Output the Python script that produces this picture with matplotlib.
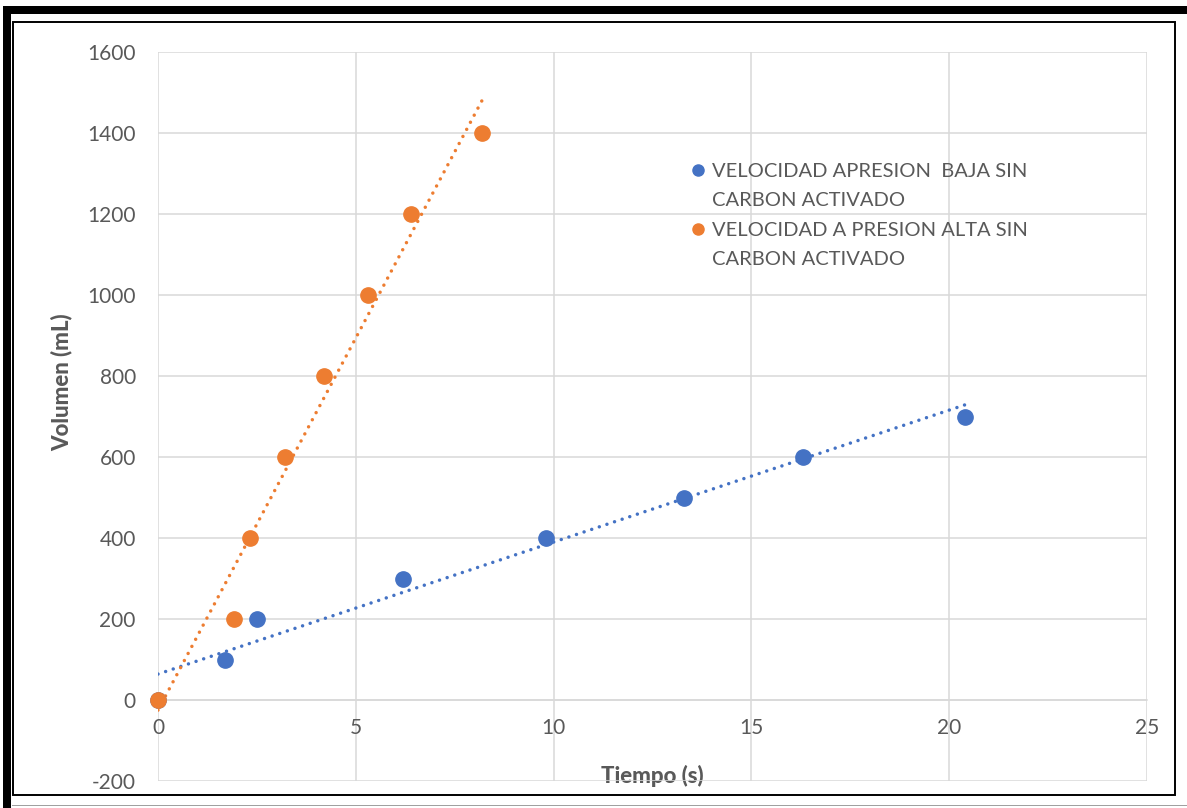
import matplotlib
matplotlib.use("Agg")
import matplotlib.pyplot as plt
from matplotlib.patches import Rectangle
from matplotlib.lines import Line2D
from matplotlib.legend_handler import HandlerLine2D
import numpy as np

# tiempo (s) y volumen (mL) para cada ensayo
t_baja = [0, 1.7, 2.5, 6.2, 9.8, 13.3, 16.3, 20.4]
v_baja = [0, 100, 200, 300, 400, 500, 600, 700]
t_alta = [0, 1.92, 2.33, 3.21, 4.2, 5.31, 6.4, 8.19]
v_alta = [0, 200, 400, 600, 800, 1000, 1200, 1400]

label_baja = "VELOCIDAD APRESION  BAJA SIN\nCARBON ACTIVADO"
label_alta = "VELOCIDAD A PRESION ALTA SIN\nCARBON ACTIVADO"

x_ticks = [0, 5, 10, 15, 20, 25]
y_ticks = [-200, 0, 200, 400, 600, 800, 1000, 1200, 1400, 1600]

BLUE = "#4472C4"
ORANGE = "#ED7D31"
GREY_TXT = "#595959"
GRID = "#D9D9D9"

plt.rcParams["font.family"] = ["Lato", "DejaVu Sans"]
plt.rcParams["axes.unicode_minus"] = False

W, H = 1187, 808
fig = plt.figure(figsize=(W / 100, H / 100), dpi=100)

def px(x0, y0, w, h, **kw):
    # rectangle given in pixels from the top-left corner
    fig.add_artist(Rectangle((x0 / W, 1 - (y0 + h) / H), w / W, h / H,
                             transform=fig.transFigure, **kw))

# outer frame
px(3, 6, W - 3, 8, color="black", lw=0)
px(3, 6, 8, H - 6, color="black", lw=0)
px(12.5, 22, 1162, 773, fill=False, ec="black", lw=1.4)
px(12, 805, W - 12, 1.2, color="#A0A0A0", lw=0)

ax = fig.add_axes([158 / W, 1 - 781 / H, (1147 - 158) / W, (781 - 52) / H])
ax.set_xlim(0, 25)
ax.set_ylim(-200, 1600)
ax.set_xticks(x_ticks)
ax.set_yticks(y_ticks)
ax.grid(True, color=GRID, lw=1.1)
ax.set_axisbelow(True)
for s in ax.spines.values():
    s.set_visible(False)
ax.spines["bottom"].set_visible(True)
ax.spines["bottom"].set_position(("data", 0))
ax.spines["bottom"].set_color(GRID)
ax.spines["bottom"].set_linewidth(1.1)
ax.tick_params(length=0, labelsize=15, colors=GREY_TXT)
ax.tick_params(axis="x", pad=13)
ax.tick_params(axis="y", pad=16)

# linear trendlines
dots = (0, (0.01, 2.3))
for t, v, c in [(t_baja, v_baja, BLUE), (t_alta, v_alta, ORANGE)]:
    m, b = np.polyfit(t, v, 1)
    xx = np.array([0, max(t)])
    ax.plot(xx, m * xx + b, color=c, lw=2.5, ls=dots,
            dash_capstyle="round", zorder=2)

ax.plot(t_baja, v_baja, "o", color=BLUE, ms=11, clip_on=False, zorder=3)
ax.plot(t_alta, v_alta, "o", color=ORANGE, ms=11, clip_on=False, zorder=3)

ax.set_xlabel("Tiempo (s)", fontsize=16, fontweight="black", color=GREY_TXT)
ax.xaxis.set_label_coords(0.5, (781 - 776) / (781 - 52), transform=ax.transAxes)
ax.xaxis.label.set_va("center")
ax.set_ylabel("Volumen (mL)", fontsize=16, fontweight="black", color=GREY_TXT)
ax.yaxis.set_label_coords((62 - 158) / (1147 - 158), (781 - 382) / (781 - 52))
ax.yaxis.label.set_va("center")


class FirstLineHandler(HandlerLine2D):
    # puts the legend marker next to the first line of a two-line label
    def create_artists(self, legend, orig_handle, xdescent, ydescent,
                       width, height, fontsize, trans):
        arts = super().create_artists(legend, orig_handle, xdescent, ydescent,
                                      width, height, fontsize, trans)
        for a in arts:
            a.set_ydata(np.asarray(a.get_ydata(), float) + 0.8 * fontsize)
        return arts


handles = [Line2D([], [], ls="none", marker="o", ms=8, color=BLUE),
           Line2D([], [], ls="none", marker="o", ms=8, color=ORANGE)]
leg = ax.legend(handles, [label_baja, label_alta], loc="upper left",
                bbox_to_anchor=(684 / W, 1 - 155 / H), bbox_transform=fig.transFigure,
                frameon=False, fontsize=14.5, handlelength=0.6, handletextpad=0.4,
                labelspacing=0.65, labelcolor=GREY_TXT, borderaxespad=0,
                handler_map={Line2D: FirstLineHandler()})
for txt in leg.get_texts():
    txt.set_linespacing(1.85)

fig.savefig("out.png", dpi=100)
